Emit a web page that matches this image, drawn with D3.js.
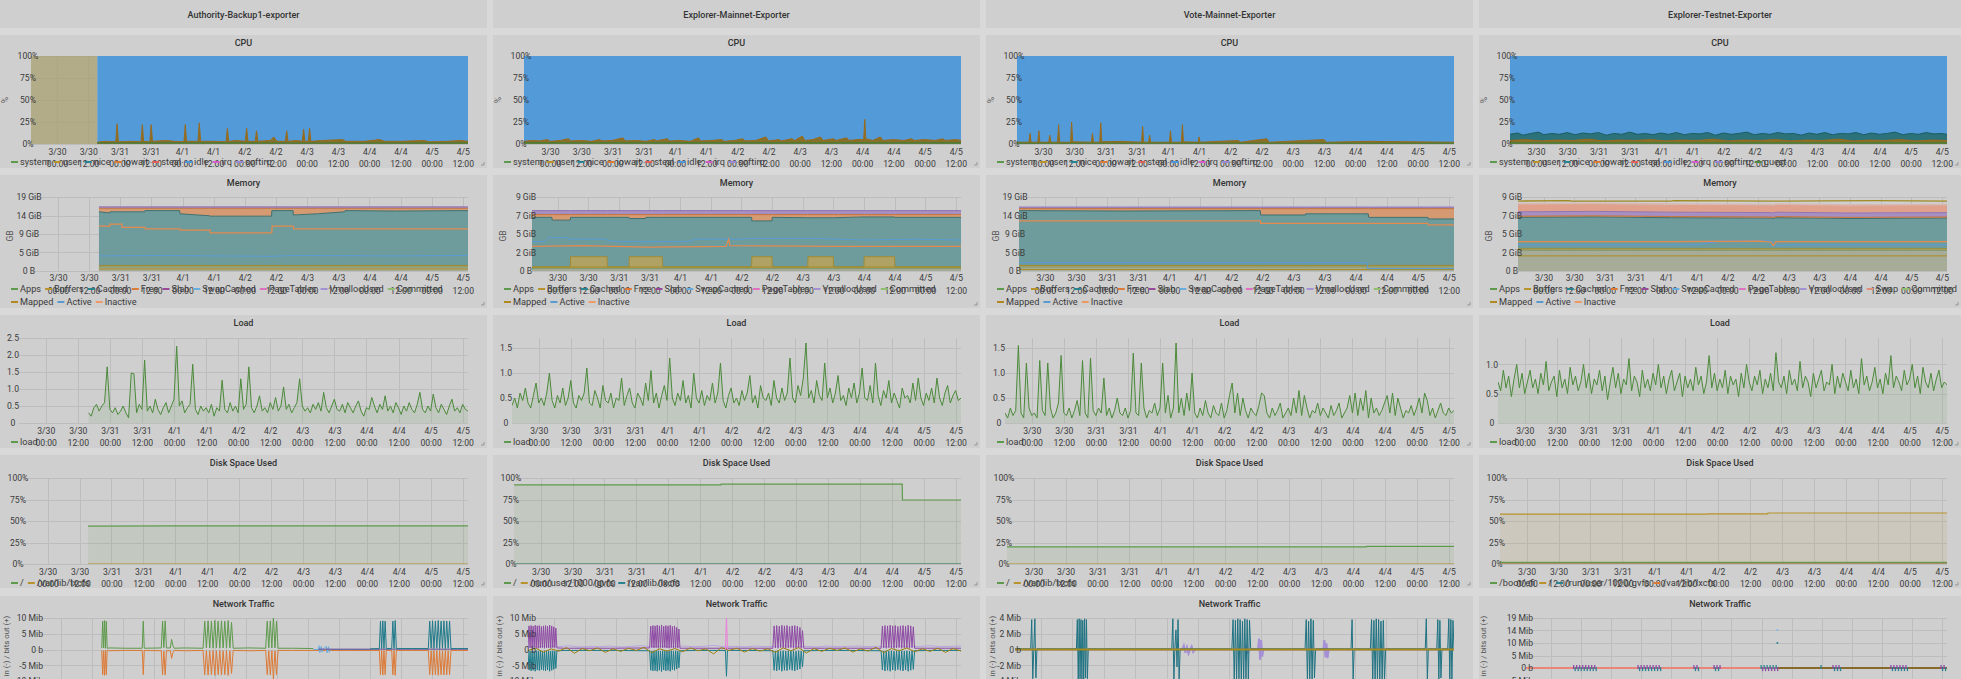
<!DOCTYPE html>
<html>
<head>
<meta charset="utf-8">
<title>Node exporter overview</title>
<script src="https://cdn.jsdelivr.net/npm/d3@7.9.0/dist/d3.min.js"></script>
<style>
  html, body { margin: 0; padding: 0; background: #d9d9d9; overflow: hidden; }
  svg { display: block; font-family: Roboto, "Noto Sans", sans-serif; }
</style>
</head>
<body>
<svg id="dash" width="1961" height="679"></svg>
<script>
// ---- time range: 7 days, 3/29 14:00 -> 4/5 14:00; series use hours from start ----
const t0 = new Date(2019, 2, 29, 14);
const t1 = new Date(2019, 3, 5, 14);
const at = h => new Date(+t0 + h * 36e5);

const hosts = ["Authority-Backup1-exporter", "Explorer-Mainnet-Exporter", "Vote-Mainnet-Exporter", "Explorer-Testnet-Exporter"];

// ---- axis ticks / labels ----
const pctTicks = [0, 25, 50, 75, 100];
const pctLabels = ["0%", "25%", "50%", "75%", "100%"];
const memTicksBig = [0, 4.66, 9.31, 13.97, 18.63];
const memLabelsBig = ["0 B", "5 GiB", "9 GiB", "14 GiB", "19 GiB"];
const memTicksSmall = [0, 2.33, 4.66, 6.98, 9.31];
const memLabelsSmall = ["0 B", "2 GiB", "5 GiB", "7 GiB", "9 GiB"];
const loadTicks = [[0, 0.5, 1, 1.5, 2, 2.5], [0, 0.5, 1, 1.5], [0, 0.5, 1, 1.5], [0, 0.5, 1]];
const loadMax = [2.5, 1.7, 1.7, 1.45];
const netTicks = [
  [-15, -10, -5, 0, 5, 10], [-15, -10, -5, 0, 5, 10],
  [-6, -4, -2, 0, 2, 4], [-9.54, -4.77, 0, 4.77, 9.54, 14.31, 19.07]
];
const netLabels = [
  ["-15 Mib", "-10 Mib", "-5 Mib", "0 b", "5 Mib", "10 Mib"],
  ["-15 Mib", "-10 Mib", "-5 Mib", "0 b", "5 Mib", "10 Mib"],
  ["-6 Mib", "-4 Mib", "-2 Mib", "0 b", "2 Mib", "4 Mib"],
  ["-10 Mib", "-5 Mib", "0 b", "5 Mib", "10 Mib", "14 Mib", "19 Mib"]
];
const netRange = [[-17.3, 10], [-17.3, 10], [-6.9, 4], [-13.7, 19.07]];

// ---- legends ----
const cpuNames = ["system", "user", "nice", "iowait", "steal", "idle", "irq", "softirq", "guest"];
const cpuColors = ["#5e9a4c", "#b8922a", "#2a8390", "#dd7a36", "#e0615a", "#4f98dc", "#d65ac9", "#9d87d2", "#4f8a3f"];
const memRow1 = ["Apps", "Buffers", "Cached", "Free", "Slab", "SwapCached", "PageTables", "VmallocUsed", "Swap", "Committed"];
const memRow1Colors = ["#5e9a4c", "#b8922a", "#2a8390", "#dd7a36", "#9a4a9a", "#6aaee0", "#e070c0", "#a492d4", "#e0907a", "#8fbf6f"];
const memRow2 = ["Mapped", "Active", "Inactive"];
const memRow2Colors = ["#b08a20", "#5a9ad0", "#ee9a66"];
const diskMounts = [
  ["/", "/var/lib/lxcfs"],
  ["/", "/run/user/1000/gvfs", "/var/lib/lxcfs"],
  ["/", "/var/lib/lxcfs"],
  ["/boot/efi", "/", "/run/user/1000/gvfs", "/var/lib/lxcfs"]
];
const diskColors = [
  ["#5e9a4c", "#b8922a"],
  ["#5e9a4c", "#b8922a", "#2a8390"],
  ["#5e9a4c", "#b8922a"],
  ["#5e9a4c", "#b8922a", "#2a8390", "#dd7a36"]
];

// ---- CPU (percent, [hour, value]) ----
const cpuGap = [[0, 25.5], null, null, null];
const cpuUser1 = [[25.5,2],[28,3],[32.6,2.5],[33.1,23],[33.6,2.5],[38,3],[42.3,2.5],[42.8,22],[43.3,3],[45.7,2.5],[46.2,22],[46.7,3],[52,4],[55,3],[58.8,2.5],[59.3,22],[59.8,3],[64.2,3],[64.7,24],[65.2,3],[70,3],[75,2.5],[75.5,18],[76,3],[79,4],[82.4,3],[82.9,18],[83.4,3],[86.2,3],[86.7,15],[87.2,3],[92,4],[93.3,8],[94.5,3],[97.8,3],[98.3,15],[98.8,3],[102,4],[104.3,3],[104.8,17],[105.3,3],[106.6,3],[107.1,18],[107.6,3],[112,4],[119.8,5],[121,3],[128,3],[134,5],[136,3],[142,3],[151,4],[153,2.5],[160,3],[165,4],[168,3]];
const cpuUser2 = [[0,3],[3,4],[6,3.5],[9,5],[10,3],[14,4],[17,6],[18,3.5],[22,4],[26,3],[29,5],[30,3.5],[34,4],[38,7],[39,3.5],[43,4],[47,3],[50,5],[51,3.5],[55,6],[56,3.5],[60,4],[64,3],[67,7],[68,3.5],[72,4],[76,5],[77,3],[81,4],[84,6],[85,3.5],[89,4],[93,8],[94,3.5],[98,5],[99,3.5],[103,6],[104,4],[107,9],[108,4],[111,5],[114,8],[115,4],[119,6],[120,4],[124,7],[125,4],[128,5],[130.6,5],[131,28],[131.4,6],[134,4],[137,8],[138,4],[142,5],[146,4],[149,6],[150,4],[154,5],[158,4],[161,6],[162,4],[166,5],[168,4]];
const cpuUser3 = [[0,2],[4.6,2],[5,12],[5.4,2],[8,2],[8.4,15],[8.8,2],[12.2,2],[12.6,10],[13,2],[15.6,2],[16,22],[16.4,2],[20.6,2],[21,25],[21.4,2.5],[28.6,2],[29,12],[29.4,2],[31.8,2],[32.2,24],[32.6,2.5],[40,3],[47.9,2],[48.3,20],[48.7,2],[50.6,2],[51,10],[51.4,2],[58.6,2],[59,15],[59.4,2],[63.2,2],[63.6,22],[64,2.5],[69.6,2],[70,8],[70.4,2],[85,4],[86,2],[96,6],[97,2],[118,5],[119,2],[135,3],[168,2]];
const cpuUser4 = [[0,4],[6,5],[12,3.5],[18,4.5],[24,4],[30,5.5],[36,3.5],[42,4.5],[48,4],[54,5],[60,3.5],[66,4.5],[72,4],[78,5.5],[84,3.5],[90,4.5],[96,4],[102,5],[108,3.5],[114,4.5],[120,4],[126,5.5],[132,3.5],[138,4.5],[144,4],[150,5],[156,3.5],[162,4.5],[168,4]];
const cpuSystem1 = [[25.5,1.2],[60,1.5],[100,1.2],[168,1.3]];
const cpuSystem2 = [[0,1.5],[168,1.5]];
const cpuSystem3 = [[0,1],[168,1]];
const cpuSystem4 = [[0,1.5],[168,1.5]];
const cpuNice4 = [[0,11],[3,12.5],[5,10],[8,12],[11,13.5],[13,10.5],[16,12],[19,11],[22,13],[25,10.5],[28,12.5],[31,11.5],[34,13],[37,10],[40,12],[43,11],[46,13.5],[49,11],[52,12],[55,10.5],[58,12.5],[61,11],[64,13],[67,10.5],[70,12],[73,11.5],[76,13],[79,10],[82,12.5],[85,11],[88,12],[91,13.5],[94,10.5],[97,12],[100,11],[103,13],[106,11.5],[109,12],[112,10],[115,12.5],[118,11],[121,13],[124,10.5],[127,12],[130,11.5],[133,13],[136,10.5],[139,12.5],[142,11],[145,12],[148,13.5],[151,10.5],[154,12],[157,11],[160,13],[163,11.5],[166,12],[168,11]];
const cpuUser = [cpuUser1, cpuUser2, cpuUser3, cpuUser4];
const cpuSystem = [cpuSystem1, cpuSystem2, cpuSystem3, cpuSystem4];
const cpuNice = [null, null, null, cpuNice4];

// ---- Memory (GiB). stacked layers share an hour grid per host ----
const memHours1 = [25.8, 30, 30.1, 34.6, 43.4, 43.5, 56.9, 57, 68.5, 68.6, 92.3, 92.4, 100.6, 100.7, 110, 120.5, 120.6, 140, 168];
const memApps1 = [1, 1, 1, 1, 1, 1, 1, 1, 1, 1, 1, 1, 1, 1, 1, 1, 1, 1, 1];
const memBuffers1 = [0.4, 0.4, 0.4, 0.4, 0.4, 0.4, 0.4, 0.4, 0.4, 0.4, 0.4, 0.4, 0.4, 0.4, 0.4, 0.4, 0.4, 0.4, 0.4];
const memCached1 = [13.5, 13.2, 13.5, 13.5, 13.5, 13.8, 13.8, 13.0, 12.5, 12.4, 12.4, 13.8, 13.8, 12.7, 13.0, 13.5, 13.8, 13.7, 13.8];
const memFree1 = [0.9, 1.2, 0.9, 0.9, 0.9, 0.6, 0.6, 1.4, 1.9, 2.0, 2.0, 0.6, 0.6, 1.7, 1.4, 0.9, 0.6, 0.7, 0.6];
const memSlab1 = [0.35, 0.35, 0.35, 0.35, 0.35, 0.35, 0.35, 0.35, 0.35, 0.35, 0.35, 0.35, 0.35, 0.35, 0.35, 0.35, 0.35, 0.35, 0.35];

const memHours2 = [0, 7.8, 7.9, 15, 15.1, 29.4, 29.5, 38, 38.1, 44.5, 44.6, 51, 51.1, 86, 86.1, 94, 94.1, 108, 108.1, 118, 118.1, 130, 130.1, 142, 142.1, 168];
const memApps2 = [0.3, 0.3, 0.3, 0.3, 0.3, 0.3, 0.3, 0.3, 0.3, 0.3, 0.3, 0.3, 0.3, 0.3, 0.3, 0.3, 0.3, 0.3, 0.3, 0.3, 0.3, 0.3, 0.3, 0.3, 0.3, 0.3];
const memBuffers2 = [0.2, 0.2, 0.2, 0.2, 1.5, 1.5, 0.2, 0.2, 1.5, 1.5, 1.5, 1.5, 0.2, 0.2, 1.5, 1.5, 0.2, 0.2, 1.5, 1.5, 0.2, 0.2, 1.5, 1.5, 0.2, 0.2];
const memCached2 = [6.25, 6.25, 5.9, 5.9, 4.95, 4.95, 6.25, 6.25, 4.8, 4.8, 4.95, 4.95, 6.25, 6.25, 4.5, 4.5, 6.25, 6.2, 4.9, 4.9, 6.2, 6.3, 5.0, 5.0, 6.25, 6.25];
const memFree2 = [0.35, 0.35, 0.7, 0.7, 0.35, 0.35, 0.35, 0.35, 0.5, 0.5, 0.35, 0.35, 0.35, 0.35, 0.8, 0.8, 0.35, 0.4, 0.4, 0.4, 0.4, 0.3, 0.3, 0.3, 0.35, 0.35];
const memSlab2 = [0.5, 0.5, 0.5, 0.5, 0.5, 0.5, 0.5, 0.5, 0.5, 0.5, 0.5, 0.5, 0.5, 0.5, 0.5, 0.5, 0.5, 0.5, 0.5, 0.5, 0.5, 0.5, 0.5, 0.5, 0.5, 0.5];

const memHours3 = [0, 40, 93.2, 93.3, 110.6, 110.7, 134.9, 135, 157.9, 158, 168];
const memApps3 = [1, 1, 1, 1, 1, 1, 1, 1, 1, 1, 1];
const memBuffers3 = [0.4, 0.4, 0.4, 0.4, 0.4, 0.4, 0.4, 0.4, 0.4, 0.4, 0.4];
const memCached3 = [13.8, 13.7, 13.8, 12.7, 12.7, 13.0, 13.0, 12.1, 12.1, 11.7, 11.7];
const memFree3 = [0.5, 0.6, 0.5, 1.6, 1.6, 1.3, 1.3, 2.2, 2.2, 2.6, 2.6];
const memSlab3 = [0.4, 0.4, 0.4, 0.4, 0.4, 0.4, 0.4, 0.4, 0.4, 0.4, 0.4];

const memHours4 = [0, 30, 60, 99, 100, 101, 130, 168];
const memApps4 = [2.6, 2.6, 2.6, 2.6, 2.6, 2.6, 2.6, 2.6];
const memBuffers4 = [0.2, 0.2, 0.2, 0.2, 0.2, 0.2, 0.2, 0.2];
const memCached4 = [3.95, 4.0, 3.9, 3.85, 3.8, 3.9, 3.8, 3.85];
const memFree4 = [0.15, 0.15, 0.15, 0.15, 0.15, 0.15, 0.15, 0.15];
const memSlab4 = [0.55, 0.55, 0.55, 0.55, 0.55, 0.55, 0.55, 0.55];
const memSwap4 = [0.85, 0.85, 0.85, 0.85, 0.85, 0.85, 0.85, 0.85];
const memVmalloc4 = [0.2, 0.2, 0.2, 0.2, 0.2, 0.2, 0.2, 0.2];

// unstacked memory lines ([hour, GiB])
const memInactive1 = [[25.8,11.3],[30,11.3],[30.1,11.8],[34.6,11.8],[34.7,11.0],[43.5,11.0],[43.6,10.6],[57,10.6],[57.1,10.3],[68.6,10.3],[68.7,9.6],[92.4,9.6],[92.5,11.3],[100.7,11.3],[100.8,10.6],[168,10.6]];
const memActive1 = [[25.8,3.8],[50,3.9],[92.4,3.7],[100,3.9],[140,3.8],[168,3.9]];
const memMapped1 = [[25.8,0.5],[168,0.5]];
const memInactive2 = [[0,3.1],[20,3.2],[45,3.0],[76,3.1],[77,4.0],[77.5,3.2],[120,3.1],[168,3.1]];
const memActive2 = [[0,3.7],[5,3.7],[6.5,4.2],[14,4.2],[14.5,4.0],[28,4.0],[33,3.7],[61,3.7],[64,4.0],[83,4.0],[84,4.1],[110,4.1],[130,3.9],[150,4.0],[168,3.9]];
const memMapped2 = [[0,0.5],[168,0.5]];
const memInactive3 = [[0,12.6],[93.2,12.6],[93.3,12.0],[157.9,12.0],[158,11.6],[168,11.6]];
const memActive3 = [[0,2.1],[134.5,2.1],[134.6,0.6],[168,0.6]];
const memMapped3 = [[0,0.4],[168,0.4]];
const memInactive4 = [[0,3.7],[60,3.7],[95,3.75],[99,3.65],[100,3.2],[101,3.7],[168,3.7]];
const memActive4 = [[0,3.3],[70,3.3],[80,3.8],[99,3.8],[100.5,3.2],[110,3.3],[168,3.3]];
const memMapped4 = [[0,1.9],[168,1.9]];
const memCommitted4 = [[0,8.8],[20,8.85],[21,8.8],[60,8.8],[61,8.85],[100,8.8],[140,8.85],[168,8.8]];

// ---- Load (1 hour samples; first sample hour given) ----
const loadStart = [26, 0, 0, 0];
const load1 = [0.3,0.2,0.45,0.55,0.35,0.5,0.6,1.65,0.4,0.3,0.45,0.25,0.35,0.5,0.3,0.15,1.47,1.45,0.3,0.55,0.4,1.85,0.35,0.5,
  0.3,0.7,0.4,0.25,0.45,0.6,0.3,0.5,0.7,2.26,0.5,0.65,0.3,0.45,0.55,1.73,0.4,0.25,0.5,0.35,0.45,0.3,0.55,0.2,
  0.45,0.35,1.26,0.4,0.3,0.6,0.35,0.5,0.3,1.3,0.4,0.55,1.65,0.45,0.3,0.5,0.8,0.35,0.45,0.3,0.6,0.4,0.75,0.35,
  0.5,1.06,0.4,0.55,0.3,0.45,0.6,1.3,0.5,0.35,0.45,0.3,0.55,0.4,0.6,0.35,0.9,0.45,0.3,0.5,0.7,0.4,0.35,0.55,
  0.3,0.6,0.45,0.3,0.5,0.65,0.35,0.2,0.45,0.4,0.75,0.5,0.3,0.55,0.4,0.8,0.35,0.5,0.3,0.6,0.45,0.25,0.5,0.35,
  0.6,0.4,0.3,0.55,0.9,0.4,0.3,0.5,0.35,0.85,0.45,0.3,0.55,0.4,0.25,0.5,0.7,0.35,0.45,0.3,0.55,0.4,0.35];
const load2 = [0.35,0.5,0.3,0.6,0.45,0.7,0.4,0.3,0.55,0.8,0.4,0.5,
  0.35,0.6,1.0,0.45,0.3,0.55,0.4,0.7,0.35,0.5,0.85,0.4,
  0.3,0.55,0.45,0.6,1.1,0.4,0.35,0.65,0.5,0.3,0.75,0.45,
  0.4,0.6,0.3,0.5,0.45,0.9,0.35,0.55,0.7,0.4,0.3,0.6,
  0.5,0.35,0.8,0.45,1.05,0.4,0.6,0.3,0.55,0.75,0.45,1.3,
  0.5,0.35,0.6,0.45,0.85,0.4,0.55,0.3,1.0,0.5,0.4,0.65,
  0.35,0.55,0.45,0.8,0.4,0.6,1.2,0.45,0.3,0.55,0.7,0.4,
  0.5,0.35,0.65,0.45,0.6,0.95,0.4,0.55,0.3,0.75,0.5,0.45,
  0.6,0.35,0.85,0.5,0.4,0.7,0.45,0.6,1.3,0.5,0.4,0.75,
  0.55,0.9,1.6,0.5,0.65,0.4,0.85,0.55,0.45,1.2,0.5,0.7,
  0.4,0.6,0.95,0.45,0.55,0.35,0.7,0.5,0.8,0.4,0.6,1.1,
  0.5,0.45,0.75,0.4,1.2,0.55,0.35,0.65,0.5,0.85,0.4,0.6,
  0.45,0.3,0.7,0.5,0.55,0.4,0.8,0.45,0.9,0.5,0.35,0.6,
  0.45,0.7,0.4,0.9,0.5,0.35,0.6,0.75,0.4,0.55,0.65,0.45,0.5];
const load3 = [0.2,0.1,0.3,0.15,0.25,1.55,0.2,0.1,1.2,0.3,0.15,0.2,
  0.1,1.25,0.25,0.15,1.2,0.3,0.1,0.2,0.4,1.35,0.2,0.15,
  0.3,0.1,0.25,0.45,0.15,1.25,0.2,0.1,1.3,0.25,0.15,0.3,
  0.2,0.9,0.15,0.3,0.1,0.25,0.5,0.2,0.15,0.3,0.1,0.25,
  1.4,0.2,0.15,1.2,0.3,0.1,0.25,0.2,0.4,0.15,0.3,1.2,
  0.2,0.55,0.1,0.3,1.6,0.2,0.5,0.15,0.6,0.25,1.0,0.2,
  0.1,0.3,0.15,0.45,0.2,0.1,0.35,0.2,0.15,0.4,0.1,0.25,
  0.55,0.8,0.2,0.6,0.15,0.5,0.25,0.1,0.3,0.2,0.15,0.35,
  0.6,0.55,0.2,0.1,0.3,0.15,0.25,0.4,0.1,0.2,0.3,0.15,
  0.5,0.2,0.65,0.15,0.55,0.3,0.1,0.25,0.2,0.4,0.15,0.3,
  0.2,0.1,0.35,0.15,0.25,0.4,0.1,0.2,0.3,0.55,0.2,0.6,
  0.15,0.5,0.25,0.65,0.1,0.5,0.2,0.3,0.15,0.25,0.4,0.55,
  0.2,0.6,0.15,0.5,0.3,0.1,0.25,0.2,0.35,0.15,0.3,0.5,
  0.2,0.6,0.45,0.15,0.3,0.1,0.25,0.4,0.2,0.15,0.3,0.2,0.25];
const load4 = [0.7,0.55,0.9,0.6,0.8,0.45,0.75,1.0,0.6,0.85,0.5,0.7,
  0.9,0.6,0.75,0.5,0.85,0.65,1.05,0.55,0.7,0.8,0.45,0.9,
  0.6,0.75,0.5,0.95,0.65,0.8,0.55,0.7,1.0,0.6,0.85,0.5,
  0.75,0.65,0.9,0.55,0.8,0.4,0.7,0.95,0.6,0.85,0.5,0.75,
  0.65,1.1,0.55,0.8,0.7,0.45,0.9,0.6,0.75,0.55,0.85,0.65,
  1.0,0.6,0.8,0.5,0.75,0.9,0.55,0.7,0.85,0.45,0.8,0.6,
  0.75,0.55,0.95,0.65,0.8,0.5,0.7,1.15,0.6,0.85,0.55,0.75,
  0.6,0.9,0.5,0.8,0.65,0.75,0.45,0.85,0.6,1.0,0.7,0.55,
  0.8,0.65,0.9,0.5,0.75,0.6,0.85,0.55,1.2,0.7,0.6,0.8,
  0.5,0.9,0.65,0.75,0.55,1.05,0.6,0.8,0.7,0.45,0.85,0.6,
  0.75,0.9,0.55,0.7,0.65,1.0,0.5,0.8,0.6,0.85,0.7,0.55,
  0.9,0.6,0.75,0.5,1.1,0.65,0.8,0.55,0.7,0.95,0.6,0.75,
  0.5,0.85,0.65,1.15,0.6,0.8,0.7,0.55,0.9,0.65,0.75,1.0,
  0.6,0.8,0.5,0.95,0.7,0.6,0.85,0.55,0.75,0.9,0.6,0.7,0.65];
const loads = [load1, load2, load3, load4];

// ---- Disk space used (percent, [hour, value]) ----
const disk1 = [[[25.2,44],[60,44.3],[120,44.4],[168,44.3]], [[25.2,0],[168,0]]];
const disk2 = [[[0,91.9],[77.7,91.9],[77.8,92.8],[145.9,92.8],[146,74.4],[168,74.4]], [[0,0],[168,0]], [[0,0],[168,0]]];
const disk3 = [[[0,19.8],[135,19.8],[135.1,20.5],[168,20.5]], [[0,0],[168,0]]];
const disk4 = [[[0,1.8],[168,1.8]], [[0,58],[78,58],[78.1,58.4],[100.6,58.4],[100.7,59.3],[168,59.3]], [[0,0],[168,0]], [[0,0],[168,0]]];
const disks = [disk1, disk2, disk3, disk4];

// ---- Network traffic (Mib). segments: [first hour, hour step, samples] ----
const netGreen1 = [[25.9,0.35,[0.4,9,0.5,9.2,0.4,9,0.4]],[29,6,[0.5,0.4]],[41.6,0.4,[0.4,9,0.4]],[49,0.5,[0.5,9,0.6,9.1,0.5]],
  [52.5,0.5,[0.5,3.2,1.2,0.4]],[58,7,[0.5]],[65.2,0.65,[0.4,9,0.5,9.1,0.5,9,0.4,9.2,0.5,9,0.4,9.1,0.5,9,0.4,9.2,0.5,8.6,0.4]],
  [83,6,[0.5]],[89.5,0.6,[0.4,9,0.5,9.1,0.5,10.6,0.5,9,0.4]],[100,8,[0.4,0.3]]];
const netOrange1 = [[25.9,0.35,[-0.3,-8,-0.4,-8.2,-0.3,-8,-0.3]],[29,6,[-0.4,-0.3]],[41.6,0.4,[-0.3,-8,-0.3]],[49,0.5,[-0.4,-8,-0.5,-8.1,-0.4]],
  [52.5,0.5,[-0.4,-2.8,-1.1,-0.3]],[58,7,[-0.4]],[65.2,0.65,[-0.3,-8,-0.4,-8.1,-0.4,-8,-0.3,-8.2,-0.4,-8,-0.3,-8.1,-0.4,-8,-0.3,-8.2,-0.4,-7.6,-0.3]],
  [83,6,[-0.4]],[89.5,0.6,[-0.3,-8,-0.4,-8.1,-0.4,-9.5,-0.4,-8,-0.3]],[100,11,[-0.3,-0.3,-0.3]],
  [133.6,0.45,[-0.3,-8,-0.3,-8.1,-0.3,-8,-0.3]],[138.4,0.45,[-0.3,-8,-0.3,-8.2,-0.3]],[146,6,[-0.3]],
  [152.6,0.55,[-0.3,-8,-0.4,-8.1,-0.3,-8,-0.4,-8.2,-0.3,-8,-0.4,-8.1,-0.3,-8,-0.4,-8,-0.3]],[164,4,[-0.3,-0.3]]];
const netTeal1 = [[130,3.6,[0.2]],[133.6,0.45,[0.3,9,0.3,9.1,0.3,9,0.3]],[138.4,0.45,[0.3,9,0.3,9.2,0.3]],[146,6,[0.3]],
  [152.6,0.55,[0.3,9,0.4,9.1,0.3,9,0.4,9.2,0.3,9,0.4,9.1,0.3,9,0.4,9,0.3]],[164,4,[0.3,0.3]]];
const netBlue1 = [[108,2,[0,0]],[110.2,0.3,[1.2,-1.0,0.3,1.0,-0.8,0]],[113,0.3,[1.1,-1.1,0.3,0.9,-0.9,0]],[116,14,[0,0]]];
const netPurple1 = [[110,29,[0.1,0.1,0.1]]];

const netPurple2 = [[0,0.4,[0.5,7.5,0.5,7.6,0.4,7.4,0.6,7.7,0.5,7.5,0.4,7.6,0.5,7.3,0.6,7.5,0.4,7.6,0.5,7.4,0.5,7.7,0.4,7.5,0.6,7.2,0.6,6.8,0.5]],
  [14,10,[0.4,0.4,0.4]],[47.2,0.42,[0.5,7.4,0.6,7.6,0.5,7.5,0.6,7.7,0.4,7.5,0.6,7.8,0.5,7.4,0.6,7.6,0.5,7.5,0.4,7.7,0.6,7.3,0.5,7.5,0.6,7.0,0.5,6.5,0.4]],
  [65,10,[0.4,0.4,0.4]],[95,0.5,[0.4,7.5,0.5,7.6,0.4,7.4,0.6,7.7,0.5,7.5,0.4,7.6,0.5,7.3,0.6,7.5,0.4,7.6,0.5,7.4,0.5,7.0,0.4,6.0,0.4]],
  [115,10,[0.4,0.4]],[137,0.5,[0.4,7.4,0.5,7.6,0.4,7.5,0.6,7.7,0.5,7.5,0.4,7.6,0.5,7.3,0.6,7.5,0.4,7.6,0.5,7.4,0.5,7.7,0.4,7.5,0.6,7.2,0.4]],
  [156,6,[0.4,0.4,0.4]]];
const netTeal2 = [[0,0.4,[-0.4,-6.5,-0.5,-6.8,-0.4,-6.6,-0.5,-6.9,-0.4,-6.5,-0.5,-6.7,-0.4,-6.4,-0.5,-6.6,-0.4,-6.8,-0.5,-6.5,-0.4,-6.9,-0.5,-6.6,-0.4,-6.3,-0.5,-6.0,-0.4]],
  [14,10,[-0.3,-0.3,-0.3]],[47.2,0.42,[-0.4,-6.6,-0.5,-6.8,-0.4,-6.7,-0.5,-6.9,-0.4,-6.6,-0.5,-7.0,-0.4,-6.5,-0.5,-6.8,-0.4,-6.6,-0.5,-6.9,-0.4,-6.4,-0.5,-6.6,-0.4,-6.2,-0.5,-5.8,-0.4]],
  [65,6,[-0.3,-0.3]],[76.6,0.4,[-0.3,-8.5,-0.3]],[80,5,[-0.3,-0.3]],
  [95,0.5,[-0.4,-6.6,-0.5,-6.8,-0.4,-6.5,-0.5,-6.9,-0.4,-6.6,-0.5,-6.7,-0.4,-6.4,-0.5,-6.6,-0.4,-6.8,-0.5,-6.5,-0.4,-6.2,-0.5,-5.5,-0.4]],
  [115,10,[-0.3,-0.3]],[137,0.5,[-0.4,-6.5,-0.5,-6.8,-0.4,-6.6,-0.5,-6.9,-0.4,-6.5,-0.5,-6.7,-0.4,-6.4,-0.5,-6.6,-0.4,-6.8,-0.5,-6.5,-0.4,-6.9,-0.5,-6.6,-0.4,-6.3,-0.4]],
  [156,6,[-0.3,-0.3,-0.3]]];
const netLavender2 = [[0,4,[1.0,0.8,1.1,0.9,1.2,0.8,1.0,0.9,1.1,0.8,1.0,1.2,0.9,1.0,0.8,1.1,0.9,1.0,1.3,0.9,1.0,0.8,1.1,0.9,1.0,1.2,0.9,1.0,0.8,1.1,0.9,1.0,1.1,0.9,1.0,0.8,1.1,0.9,1.0,1.2,0.9,1.0,1.1]]];
const netOlive2 = [[0,3,[-0.3,0.4,-0.8,0.2,-0.5,0.6,-1.2,0.3,-0.4,0.5,-0.9,0.2,-0.6,0.4,-0.3,0.7,-1.0,0.2,-0.5,0.3,-0.7,0.5,-0.4,0.2,-1.4,0.6,-0.3,0.4,-0.8,0.3,-0.5,0.2,-0.9,0.5,-0.4,0.6,-1.1,0.3,-0.6,0.4,-0.3,0.5,-0.8,0.2,-0.5,0.7,-1.0,0.3,-0.4,0.5,-0.7,0.2,-0.6,0.4,-0.9,0.3,-0.5]]];
const netPink2 = [[76.6,0.4,[0,10.5,0]]];

const netTeal3 = [[0,3,[0.1,0.1]],[6,0.4,[0.1,3.8,-3.7,0.2,3.9,-3.6,0.1]],[10,6,[0.1,0.1]],
  [23.5,0.35,[0.1,3.8,-3.8,3.9,-3.7,3.8,-3.9,3.7,-3.8,3.9,-3.6,3.8,-3.7,0.1]],[32,12,[0.1,0.1,0.1]],
  [60,0.4,[0.1,3.9,-3.8,0.3,2.5,-2.2,3.8,-3.9,0.1]],[66,6,[0.1,0.1,0.1]],
  [83,0.45,[0.1,3.8,-3.9,3.7,-3.8,3.9,-3.7,3.8,-3.9,3.6,-3.8,3.9,-3.7,3.8,-3.8,3.7,0.1]],[94,8,[0.1,0.1]],
  [111,0.45,[0.1,3.8,-3.9,3.6,-3.7,3.9,-3.8,3.7,-3.6,0.1]],[121,7,[0.1]],[128.6,0.4,[0.1,3.8,-3.8,0.1]],[133,1,[0.1]],
  [136,0.45,[0.1,3.8,-3.9,3.7,-3.8,3.9,-3.7,3.8,-3.9,3.6,-3.8,3.7,-3.9,0.1]],[150,6,[0.1]],[157,0.4,[0.1,3.9,-3.8,0.1]],
  [160,1,[0.1]],[161.4,0.4,[0.1,3.8,-3.9,3.7,-3.6,0.1]],[165.6,0.4,[0.1,3.9,-3.8,3.8,-3.9,3.7,0.1]]];
const netLavender3 = [[0,64,[0]],[64,0.6,[0,0.5,-0.4,0.3,-0.5,0,0.4,-0.3,0]],[88,0.5,[0,0.6,-0.5,0]],[93,0.4,[0,1.4,-1.3,1.2,-0.9,0]],
  [118,0.4,[0,1.2,-1.0,0.8,-1.1,0]],[128,40,[0,0]]];
const netOlive3 = [[0,24,[0,0,0,0,0,0,0,0]]];

const netSalmon4 = [[0,100.5,[0,0]]];
const netBrown4 = [[100.5,67.5,[0,0]]];
const netDots4 = [[19,0.6,[0.4,-0.4,0.4,-0.4,0.4,-0.4,0.4,-0.4,0.4,-0.4,0.4,-0.4,0.4,-0.4,0.4,-0.4]],
  [44.7,0.6,[0.4,-0.4,0.4,-0.4,0.4,-0.4,0.4,-0.4,0.4,-0.4,0.4,-0.4,0.4,-0.4,0.4,-0.4]],
  [67,0.6,[0.4,-0.4,0.4,-0.4]],[75,0.6,[0.4,-0.4,0.4,-0.4,0.4]],
  [93.8,0.6,[0.4,-0.4,0.4,-0.4,0.4,-0.4,0.4,-0.4,0.4,-0.4,0.4,-0.4]],[117.7,0.6,[0.4]],
  [122.5,0.6,[0.4,-0.4,0.4,-0.4,0.4,-0.4]],[145.6,0.6,[0.4,-0.4,0.4,-0.4,0.4,-0.4,0.4,-0.4,0.4,-0.4,0.4,-0.4]],
  [165.6,0.6,[0.4,-0.4,0.4,-0.4]]];
const netSpikes4 = [[100.3,14.5],[100.3,9.5]];

// ---- layout ----
const colX = [0, 493, 986, 1479];
const colW = [487, 487, 487, 482];
const PANEL_H = 133;
const rows = { cpu: 35, mem: 175, load: 315, disk: 455, net: 596 };
const frame = {
  cpu:  { top: 21, bottom: 109, left: [31, 31, 31, 31], xl: [10.5, 22.5] },
  mem:  { top: 22, bottom: 96,  left: [32, 39, 33, 39], xl: [9.5, 23] },
  load: { top: 23, bottom: 108, left: [19, 19, 19, 19], xl: [11, 23] },
  disk: { top: 23, bottom: 109, left: [21, 21, 21, 21], xl: [10.5, 23] },
  net:  { top: 22, bottom: 108, left: [35, 35, 29, 47], xl: [11, 23] }
};
const PANEL = "#cfcfcf", GRID = "#bdbdbd", TXT = "#3b3b3b", TITLE = "#333";
const TICK_FS = 8.6, LEG_FS = 9.2;

const svg = d3.select("#dash");
const fmtDay = d3.timeFormat("%-m/%-d");
const fmtTime = d3.timeFormat("%H:%M");
const toPts = pairs => pairs.map(([h, v]) => ({ t: at(h), v }));
const segPts = segs => segs.flatMap(([h0, dh, vals]) => vals.map((v, i) => ({ t: at(h0 + i * dh), v })));

function panel(c, top, title) {
  const g = svg.append("g");
  g.append("rect").attr("x", colX[c]).attr("y", top).attr("width", colW[c]).attr("height", PANEL_H).attr("fill", PANEL);
  g.append("text").attr("x", colX[c] + colW[c] / 2).attr("y", top + 11.3).attr("text-anchor", "middle")
    .attr("font-size", 9).attr("font-weight", 500).attr("fill", TITLE).text(title);
  const cx = colX[c] + colW[c] - 3, cy = top + PANEL_H - 3;
  g.append("path").attr("d", `M${cx - 3},${cy}H${cx}V${cy - 3}`).attr("fill", "none").attr("stroke", "#8c8c8c").attr("stroke-width", 0.8);
  return g;
}

function rotLabel(g, x, y, text, size) {
  g.append("text").attr("transform", `translate(${x},${y}) rotate(-90)`).attr("text-anchor", "middle")
    .attr("dy", "0.35em").attr("font-size", size || TICK_FS).attr("fill", "#555").text(text);
}

let clipN = 0;
function plot(g, c, kind, yDomain, yTicks, yLabels, labelX, anchor) {
  const f = frame[kind], top = rows[kind];
  const x0 = colX[c] + f.left[c], x1 = colX[c] + 468;
  const y0 = top + f.top, y1 = top + f.bottom;
  const x = d3.scaleTime().domain([t0, t1]).range([x0, x1]);
  const y = d3.scaleLinear().domain(yDomain).range([y1, y0]);
  const ticks = x.ticks(d3.timeHour.every(12));

  const grid = g.append("g").attr("stroke", GRID).attr("stroke-width", 1);
  grid.selectAll(null).data(ticks).join("line")
    .attr("x1", d => Math.round(x(d)) + 0.5).attr("x2", d => Math.round(x(d)) + 0.5).attr("y1", y0).attr("y2", y1);
  grid.selectAll(null).data(yTicks).join("line")
    .attr("x1", x0).attr("x2", x1).attr("y1", d => Math.round(y(d)) + 0.5).attr("y2", d => Math.round(y(d)) + 0.5);

  const id = `clip${clipN++}`;
  g.append("clipPath").attr("id", id).append("rect").attr("x", x0).attr("y", y0).attr("width", x1 - x0).attr("height", y1 - y0);
  const layer = g.append("g").attr("clip-path", `url(#${id})`);

  const yAx = g.append("g").attr("transform", `translate(${colX[c] + labelX},0)`)
    .call(d3.axisLeft(y).tickValues(yTicks).tickFormat((d, i) => yLabels[i]).tickSize(0).tickPadding(0));
  yAx.select(".domain").remove();
  yAx.attr("font-family", null).attr("font-size", TICK_FS).attr("text-anchor", anchor || "middle");
  yAx.selectAll("text").attr("fill", TXT);

  const xAx = g.append("g").attr("transform", `translate(0,${y1})`)
    .call(d3.axisBottom(x).tickValues(ticks).tickSize(0).tickFormat(fmtDay));
  xAx.select(".domain").remove();
  xAx.attr("font-family", null).attr("font-size", TICK_FS);
  xAx.selectAll(".tick text").attr("y", f.xl[0]).attr("dy", null).attr("fill", TXT);
  xAx.selectAll(".tick").append("text").attr("y", f.xl[1]).attr("fill", TXT).text(fmtTime);

  return { x, y, layer };
}

function legend(g, items, x0, y) {
  let x = x0;
  items.forEach(([name, color]) => {
    g.append("line").attr("x1", x).attr("x2", x + 7).attr("y1", y).attr("y2", y)
      .attr("stroke", color).attr("stroke-width", 2);
    const t = g.append("text").attr("x", x + 9).attr("y", y + 3.2).attr("font-size", LEG_FS).attr("fill", TXT).text(name);
    x += 9 + t.node().getComputedTextLength() + 4;
  });
}

function areaPath(p, pts, fill, opacity, stroke, width) {
  const area = d3.area().x(d => p.x(d.t)).y0(p.y(0)).y1(d => p.y(d.v));
  p.layer.append("path").attr("d", area(pts)).attr("fill", fill).attr("fill-opacity", opacity);
  if (stroke) linePath(p, pts, stroke, width || 1);
}
function linePath(p, pts, stroke, width) {
  const line = d3.line().x(d => p.x(d.t)).y(d => p.y(d.v));
  p.layer.append("path").attr("d", line(pts)).attr("fill", "none").attr("stroke", stroke).attr("stroke-width", width || 1);
}

// ---- header rows ----
hosts.forEach((name, c) => {
  svg.append("rect").attr("x", colX[c]).attr("y", 0).attr("width", colW[c]).attr("height", 28).attr("fill", PANEL);
  svg.append("text").attr("x", colX[c] + colW[c] / 2).attr("y", 18).attr("text-anchor", "middle")
    .attr("font-size", 9).attr("font-weight", 500).attr("fill", TITLE).text(name);
});

// ---- CPU ----
function drawCpu(c) {
  const top = rows.cpu;
  const g = panel(c, top, "CPU");
  const p = plot(g, c, "cpu", [0, 100], pctTicks, pctLabels, 28);
  rotLabel(g, colX[c] + 5, top + 65, "%");
  const gap = cpuGap[c];
  if (gap) {
    p.layer.append("rect").attr("x", p.x(at(gap[0]))).attr("width", p.x(at(gap[1])) - p.x(at(gap[0])))
      .attr("y", p.y(100)).attr("height", p.y(0) - p.y(100)).attr("fill", "#a8a170").attr("fill-opacity", 0.75);
  }
  const user = toPts(cpuUser[c]);
  const span = d3.extent(user, d => d.t);
  // idle fills everything above the busy series up to 100%
  areaPath(p, span.map(t => ({ t, v: 100 })), "#529ad8", 1);
  if (cpuNice[c]) areaPath(p, toPts(cpuNice[c]), "#2b727a", 1, "#1c5d63", 1);
  areaPath(p, user, "#86702a", 1, "#9a6a1c", 1);
  areaPath(p, toPts(cpuSystem[c]), "#5b7f3e", 1, "#4f7a36", 1);
  const n = c === 3 ? 9 : 8;
  legend(g, cpuNames.slice(0, n).map((d, i) => [d, cpuColors[i]]), colX[c] + 11, top + 127);
}

// ---- Memory ----
const memStacks = [
  [memHours1, { Apps: memApps1, Buffers: memBuffers1, Cached: memCached1, Free: memFree1, Slab: memSlab1 }],
  [memHours2, { Apps: memApps2, Buffers: memBuffers2, Cached: memCached2, Free: memFree2, Slab: memSlab2 }],
  [memHours3, { Apps: memApps3, Buffers: memBuffers3, Cached: memCached3, Free: memFree3, Slab: memSlab3 }],
  [memHours4, { Apps: memApps4, Buffers: memBuffers4, Cached: memCached4, Free: memFree4, Slab: memSlab4, Swap: memSwap4, VmallocUsed: memVmalloc4 }]
];
const memLines = [
  [memMapped1, memActive1, memInactive1, null],
  [memMapped2, memActive2, memInactive2, null],
  [memMapped3, memActive3, memInactive3, null],
  [memMapped4, memActive4, memInactive4, memCommitted4]
];
const layerStyle = {
  Apps: ["#a7ac98", "#7f9a6e"], Buffers: ["#b0a264", "#a08a30"], Cached: ["#6e9c9c", "#3e6f70"],
  Free: ["#d59a72", "#c4733c"], Slab: ["#a78fc2", "#9275b4"], Swap: ["#e0a18c", "#e0a18c"], VmallocUsed: ["#d8b8b2", "#d8b8b2"]
};

function drawMem(c) {
  const top = rows.mem;
  const g = panel(c, top, "Memory");
  const big = c === 0 || c === 2;
  const p = plot(g, c, "mem", [0, big ? 18.63 : 9.31], big ? memTicksBig : memTicksSmall,
    big ? memLabelsBig : memLabelsSmall, big ? 29 : 33);
  rotLabel(g, colX[c] + 10, top + 61, "GB");
  const [hours, layers] = memStacks[c];
  const keys = Object.keys(layers);
  const table = hours.map((h, i) => {
    const r = { t: at(h) };
    keys.forEach(k => { r[k] = layers[k][i]; });
    return r;
  });
  const stacked = d3.stack().keys(keys)(table);
  const area = d3.area().x(d => p.x(d.data.t)).y0(d => p.y(d[0])).y1(d => p.y(d[1]));
  const edge = d3.line().x(d => p.x(d.data.t)).y(d => p.y(d[1]));
  p.layer.selectAll(null).data(stacked).join("path").attr("d", area).attr("fill", d => layerStyle[d.key][0]);
  p.layer.selectAll(null).data(stacked).join("path").attr("d", edge).attr("fill", "none")
    .attr("stroke", d => layerStyle[d.key][1]).attr("stroke-width", 1);
  const [mapped, active, inactive, committed] = memLines[c];
  linePath(p, toPts(mapped), "#a88a22", 1);
  linePath(p, toPts(active), "#5a9bd5", 1);
  linePath(p, toPts(inactive), "#e5894d", 1.2);
  if (committed) linePath(p, toPts(committed), "#a08a24", 1.3);
  const row1 = memRow1.map((d, i) => [d, memRow1Colors[i]]).filter(d => c === 3 || d[0] !== "Swap");
  legend(g, row1, colX[c] + 11, top + 114);
  legend(g, memRow2.map((d, i) => [d, memRow2Colors[i]]), colX[c] + 11, top + 127);
}

// ---- Load ----
function drawLoad(c) {
  const top = rows.load;
  const g = panel(c, top, "Load");
  const ticks = loadTicks[c];
  const p = plot(g, c, "load", [0, loadMax[c]], ticks, ticks.map(d => d === 0 ? "0" : d3.format(".1f")(d)), 13);
  const pts = loads[c].map((v, i) => ({ t: at(loadStart[c] + i), v }));
  areaPath(p, pts, "#629e51", 0.12, "#4c8a3b", 1);
  legend(g, [["load", "#5e9a4c"]], colX[c] + 11, top + 127);
}

// ---- Disk ----
function drawDisk(c) {
  const top = rows.disk;
  const g = panel(c, top, "Disk Space Used");
  const p = plot(g, c, "disk", [0, 100], pctTicks, pctLabels, 18);
  disks[c].forEach((s, i) => areaPath(p, toPts(s), diskColors[c][i], 0.1, diskColors[c][i], 1.2));
  legend(g, diskMounts[c].map((d, i) => [d, diskColors[c][i]]), colX[c] + 11, top + 128);
}

// ---- Network ----
const netSeries = [
  [[netGreen1, "#5e9a4c"], [netOrange1, "#dd7a36"], [netBlue1, "#6aaee0"], [netPurple1, "#6a4c93"], [netTeal1, "#1f7a8a"]],
  [[netLavender2, "#b9a3e3"], [netPurple2, "#8e4aa5"], [netTeal2, "#1c7d8c"], [netOlive2, "#9c800e"], [netPink2, "#ec7fd8"]],
  [[netLavender3, "#a58fd6"], [netTeal3, "#1f7282"], [netOlive3, "#a88a1a"]],
  [[netSalmon4, "#ec8579"], [netBrown4, "#8a6a2a"]]
];
const netAnchorX = [43, 43, 35, 54];

function drawNet(c) {
  const top = rows.net;
  const g = panel(c, top, "Network Traffic");
  const p = plot(g, c, "net", netRange[c], netTicks[c], netLabels[c], netAnchorX[c], "end");
  rotLabel(g, colX[c] + (c === 3 ? 4 : 6), top + 50, "in (-) / bits out (+)", 7.8);
  netSeries[c].forEach(([segs, color]) => linePath(p, segPts(segs), color, c >= 2 && segs !== netTeal3 ? 2 : 1));
  if (c === 3) {
    p.layer.selectAll(null).data(segPts(netDots4)).join("rect")
      .attr("x", d => p.x(d.t) - 0.6).attr("y", d => p.y(d.v) - 2).attr("width", 1.3).attr("height", 4)
      .attr("fill", (d, i) => i % 2 ? "#2a8390" : "#8e4aa5");
    p.layer.selectAll(null).data(toPts(netSpikes4)).join("circle")
      .attr("cx", d => p.x(d.t)).attr("cy", d => p.y(d.v)).attr("r", 1)
      .attr("fill", (d, i) => i ? "#2a8390" : "#7fb3e8");
  }
}

for (let c = 0; c < 4; c++) {
  drawCpu(c);
  drawMem(c);
  drawLoad(c);
  drawDisk(c);
  drawNet(c);
}
</script>
</body>
</html>
